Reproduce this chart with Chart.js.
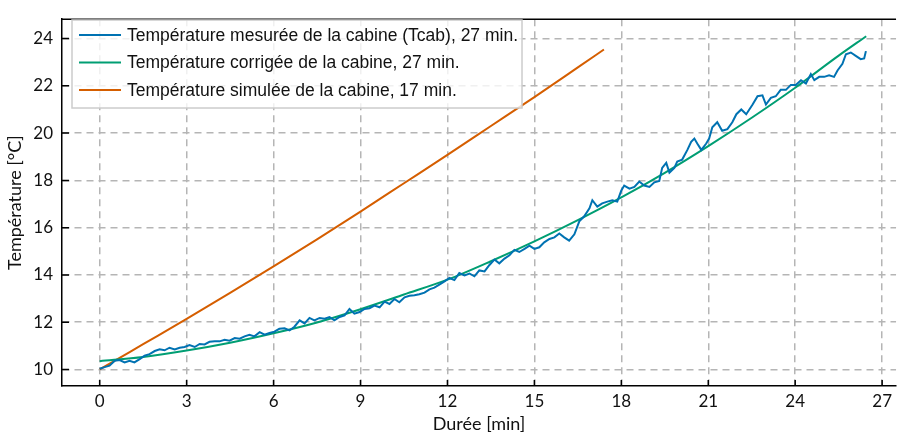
<!DOCTYPE html>
<html>
<head>
<meta charset="utf-8">
<script src="https://cdn.jsdelivr.net/npm/chart.js@4.4.1/dist/chart.umd.min.js"></script>
<style>
  html, body { margin: 0; padding: 0; background: #fff; }
  #wrap { width: 897px; height: 439px; position: relative; }
</style>
</head>
<body>
<div id="wrap"><canvas id="tempChart"></canvas></div>
<script>
var measuredTime = [
  0.00, 0.17, 0.34, 0.52, 0.69, 0.86, 1.03, 1.20, 1.38, 1.55, 1.72, 1.90, 2.07, 2.24, 2.41, 2.59, 2.76, 2.93,
  3.10, 3.28, 3.45, 3.62, 3.79, 3.97, 4.14, 4.31, 4.48, 4.66, 4.83, 5.00, 5.17, 5.34, 5.52, 5.69, 5.86, 6.03,
  6.20, 6.38, 6.55, 6.72, 6.90, 7.07, 7.24, 7.41, 7.59, 7.76, 7.93, 8.10, 8.28, 8.45, 8.62, 8.79, 8.97, 9.14,
  9.31, 9.48, 9.66, 9.83, 10.00, 10.17, 10.34, 10.52, 10.69, 10.86, 11.03, 11.21, 11.38, 11.55, 11.72, 11.90,
  12.07, 12.24, 12.41, 12.59, 12.76, 12.93, 13.10, 13.28, 13.45, 13.62, 13.79, 13.97, 14.14, 14.31, 14.48,
  14.66, 14.83, 15.00, 15.17, 15.34, 15.52, 15.69, 15.86, 16.03, 16.20, 16.38, 16.55, 16.72, 16.90, 17.00,
  17.17, 17.34, 17.52, 17.69, 17.86, 18.00, 18.10, 18.28, 18.45, 18.62, 18.79, 18.97, 19.14, 19.31, 19.41,
  19.55, 19.66, 19.83, 19.93, 20.10, 20.28, 20.41, 20.52, 20.62, 20.76, 20.93, 21.03, 21.14, 21.31, 21.48,
  21.66, 21.83, 21.97, 22.14, 22.31, 22.53, 22.70, 22.87, 22.99, 23.16, 23.33, 23.50, 23.68, 23.85, 24.02,
  24.20, 24.37, 24.54, 24.66, 24.83, 25.00, 25.17, 25.34, 25.46, 25.63, 25.75, 25.92, 26.09, 26.26, 26.38, 26.44
];
var measuredTemp = [
  10.03, 10.10, 10.16, 10.37, 10.40, 10.30, 10.37, 10.30, 10.44, 10.58, 10.65, 10.78, 10.85, 10.81, 10.92, 10.85, 10.92, 10.95,
  11.03, 10.95, 11.08, 11.06, 11.17, 11.19, 11.19, 11.26, 11.22, 11.33, 11.30, 11.40, 11.47, 11.40, 11.58, 11.47, 11.54, 11.60,
  11.72, 11.74, 11.65, 11.81, 12.08, 11.95, 12.18, 12.08, 12.18, 12.15, 12.22, 12.08, 12.22, 12.29, 12.56, 12.36, 12.43, 12.56,
  12.59, 12.70, 12.63, 12.87, 12.77, 12.98, 12.84, 13.05, 13.12, 13.14, 13.18, 13.25, 13.39, 13.46, 13.59, 13.73,
  13.87, 13.78, 14.08, 13.98, 14.06, 13.94, 14.19, 14.15, 14.42, 14.65, 14.49, 14.69, 14.83, 15.06, 14.97,
  15.10, 15.24, 15.10, 15.17, 15.38, 15.52, 15.59, 15.75, 15.59, 15.45, 15.72, 16.27, 16.48, 16.82, 17.16,
  16.89, 17.03, 17.10, 17.16, 17.10, 17.57, 17.78, 17.65, 17.72, 17.95, 17.78, 17.72, 17.92, 17.98, 18.53,
  18.74, 18.33, 18.53, 18.80, 18.88, 19.29, 19.63, 19.77, 19.56, 19.29, 19.56, 19.77, 20.25, 20.46, 20.10,
  20.17, 20.46, 20.80, 21.00, 20.80, 21.21, 21.56, 21.60, 21.21, 21.49, 21.56, 21.83, 21.83, 22.04, 22.04,
  22.24, 22.10, 22.50, 22.24, 22.38, 22.38, 22.45, 22.38, 22.65, 22.93, 23.34, 23.41, 23.27, 23.13, 23.16, 23.47
];

// Corrected cabin temperature (green)
var correctedTime = [0, 1.5, 3, 4.5, 6, 7.5, 9, 10.5, 12, 13.5, 15, 16.5, 18, 19.5, 21, 22.5, 24, 25.5, 26.45];
var correctedTemp = [10.35, 10.53, 10.80, 11.13, 11.53, 11.99, 12.55, 13.17, 13.80, 14.58, 15.42, 16.32, 17.28, 18.32, 19.45, 20.65, 21.92, 23.28, 24.10];

// Simulated cabin temperature (orange)
var simulatedTime = [0, 1.5, 3, 4.5, 6, 7.5, 9, 10.5, 12, 13.5, 15, 16.5, 17.4];
var simulatedTemp = [10.0, 11.07, 12.14, 13.24, 14.36, 15.50, 16.68, 17.88, 19.08, 20.30, 21.52, 22.78, 23.54];

var seriesLabels = [
  'Température mesurée de la cabine (Tcab), 27 min.',
  'Température corrigée de la cabine, 27 min.',
  'Température simulée de la cabine, 17 min.'
];
var xTicks = [0, 3, 6, 9, 12, 15, 18, 21, 24, 27];
var yTicks = [10, 12, 14, 16, 18, 20, 22, 24];

function toPoints(xs, ys) {
  return xs.map(function(x, i) { return { x: x, y: ys[i] }; });
}

var tickFont = { family: 'Lato, "Open Sans", sans-serif', size: 17 };
var titleFont = { family: 'Lato, "Open Sans", sans-serif', size: 18 };

// inward tick marks, top frame line and boxed legend
var framePlugin = {
  id: 'frame',
  afterDraw: function(chart) {
    var ctx = chart.ctx;
    var a = chart.chartArea;
    var xs = chart.scales.x, ys = chart.scales.y;
    ctx.save();
    ctx.strokeStyle = '#000';
    ctx.lineWidth = 1.5;
    ctx.beginPath();
    ctx.moveTo(a.left, a.top);
    ctx.lineTo(a.right, a.top);
    xTicks.forEach(function(v) {
      var px = xs.getPixelForValue(v);
      ctx.moveTo(px, a.bottom);
      ctx.lineTo(px, a.bottom - 6);
    });
    yTicks.forEach(function(v) {
      var py = ys.getPixelForValue(v);
      ctx.moveTo(a.left, py);
      ctx.lineTo(a.left + 7, py);
    });
    ctx.stroke();

    // legend box
    var bx = 72, by = 20, bw = 450, bh = 88;
    ctx.fillStyle = 'rgba(255,255,255,0.8)';
    ctx.fillRect(bx, by, bw, bh);
    ctx.strokeStyle = '#cccccc';
    ctx.lineWidth = 1.5;
    ctx.strokeRect(bx, by, bw, bh);
    ctx.font = '17.5px "Liberation Sans", Arial, sans-serif';
    ctx.textBaseline = 'middle';
    chart.data.datasets.forEach(function(ds, i) {
      var ry = by + 15 + i * 27.5;
      ctx.strokeStyle = ds.borderColor;
      ctx.lineWidth = 2;
      ctx.beginPath();
      ctx.moveTo(bx + 7, ry);
      ctx.lineTo(bx + 49, ry);
      ctx.stroke();
      ctx.fillStyle = '#111';
      ctx.fillText(ds.label, bx + 55, ry + 1);
    });
    ctx.restore();
  }
};

new Chart(document.getElementById('tempChart'), {
  type: 'line',
  data: {
    datasets: [
      {
        label: seriesLabels[0],
        data: toPoints(measuredTime, measuredTemp),
        borderColor: '#0072B2',
        borderWidth: 2,
        pointRadius: 0,
        tension: 0
      },
      {
        label: seriesLabels[1],
        data: toPoints(correctedTime, correctedTemp),
        borderColor: '#009E73',
        borderWidth: 2,
        pointRadius: 0,
        cubicInterpolationMode: 'monotone'
      },
      {
        label: seriesLabels[2],
        data: toPoints(simulatedTime, simulatedTemp),
        borderColor: '#D55E00',
        borderWidth: 2,
        pointRadius: 0,
        cubicInterpolationMode: 'monotone'
      }
    ]
  },
  options: {
    responsive: true,
    maintainAspectRatio: false,
    animation: false,
    layout: { padding: { top: 9, right: 0, left: 0, bottom: 0 } },
    plugins: {
      legend: { display: false },
      tooltip: { enabled: false }
    },
    scales: {
      x: {
        type: 'linear',
        min: -1.3,
        max: 27.48,
        afterBuildTicks: function(scale) {
          scale.ticks = xTicks.map(function(v) { return { value: v }; });
        },
        afterFit: function(scale) { scale.height = 53; },
        ticks: { font: tickFont, color: '#111', padding: 5, maxRotation: 0 },
        grid: { color: '#b5b5b5', lineWidth: 1.5, drawTicks: false },
        border: { display: true, color: '#000', width: 1.5, dash: [7, 5] },
        title: { display: true, text: 'Durée [min]', font: titleFont, color: '#111', padding: { top: 0 } }
      },
      y: {
        min: 9.3,
        max: 24.82,
        afterBuildTicks: function(scale) {
          scale.ticks = yTicks.map(function(v) { return { value: v }; });
        },
        afterFit: function(scale) { scale.width = 62; },
        ticks: { font: tickFont, color: '#111', padding: 9 },
        grid: { color: '#b5b5b5', lineWidth: 1.5, drawTicks: false },
        border: { display: true, color: '#000', width: 1.5, dash: [7, 5] },
        title: { display: true, text: 'Température [°C]', font: titleFont, color: '#111', padding: { bottom: 2 } }
      }
    }
  },
  plugins: [framePlugin]
});
</script>
</body>
</html>
